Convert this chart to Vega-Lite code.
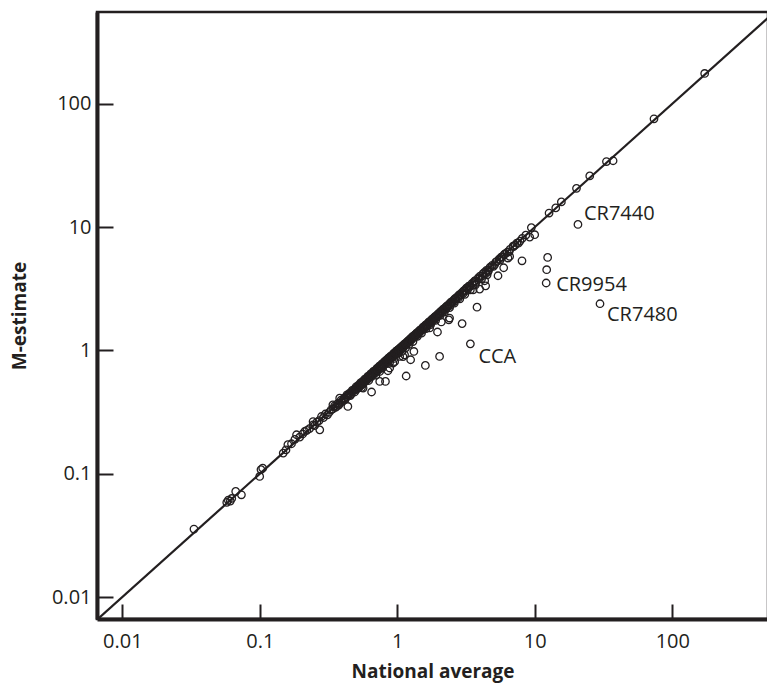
{
  "$schema": "https://vega.github.io/schema/vega-lite/v6.json",
  "width": 671,
  "height": 607,
  "autosize": {"type": "none"},
  "padding": {"left": 97, "top": 12, "right": 0, "bottom": 68},
  "background": "white",
  "config": {"view": {"stroke": "#231f20", "strokeWidth": 2.5}},
  "datasets": {
    "pts": [
      {"n":0.0332,"m":0.0356},{"n":0.0575,"m":0.0585},{"n":0.059,"m":0.061},{"n":0.061,"m":0.06},{"n":0.0625,"m":0.063},
      {"n":0.0668,"m":0.0718},{"n":0.0735,"m":0.0675},{"n":0.0998,"m":0.095},{"n":0.102,"m":0.108},{"n":0.105,"m":0.111},
      {"n":0.148,"m":0.147},{"n":0.155,"m":0.156},{"n":0.16,"m":0.172},{"n":0.17,"m":0.175},{"n":0.18,"m":0.19},
      {"n":0.185,"m":0.207},{"n":0.195,"m":0.198},{"n":0.205,"m":0.21},{"n":0.212,"m":0.22},{"n":0.22,"m":0.225},
      {"n":0.23,"m":0.232},{"n":0.244,"m":0.249},{"n":0.244,"m":0.265},{"n":0.25,"m":0.245},{"n":0.26,"m":0.262},{"n":0.27,"m":0.27},
      {"n":0.273,"m":0.227},{"n":0.281,"m":0.291},{"n":0.29,"m":0.285},{"n":0.3,"m":0.305},{"n":0.31,"m":0.3},
      {"n":0.32,"m":0.315},{"n":0.33,"m":0.33},{"n":0.34,"m":0.362},{"n":0.34,"m":0.335},{"n":0.35,"m":0.355},{"n":0.355,"m":0.345},{"n":0.36,"m":0.35},
      {"n":0.37,"m":0.372},{"n":0.375,"m":0.36},{"n":0.38,"m":0.37},{"n":0.381,"m":0.41},{"n":0.39,"m":0.395},{"n":0.395,"m":0.385},{"n":0.4,"m":0.39},
      {"n":0.41,"m":0.41},{"n":0.415,"m":0.4},{"n":0.42,"m":0.405},{"n":0.425,"m":0.42},{"n":0.43,"m":0.435},{"n":0.437,"m":0.351},{"n":0.44,"m":0.43},
      {"n":0.445,"m":0.44},{"n":0.45,"m":0.45},{"n":0.455,"m":0.43},{"n":0.46,"m":0.44},{"n":0.465,"m":0.46},{"n":0.47,"m":0.475},{"n":0.48,"m":0.47},{"n":0.485,"m":0.48},{"n":0.49,"m":0.46},
      {"n":0.495,"m":0.49},{"n":0.5,"m":0.505},{"n":0.503,"m":0.48},{"n":0.51,"m":0.49},{"n":0.515,"m":0.505},{"n":0.52,"m":0.52},{"n":0.525,"m":0.5},{"n":0.53,"m":0.51},
      {"n":0.535,"m":0.53},{"n":0.54,"m":0.545},{"n":0.545,"m":0.52},{"n":0.55,"m":0.53},{"n":0.55,"m":0.5},{"n":0.555,"m":0.55},{"n":0.56,"m":0.56},{"n":0.564,"m":0.495},{"n":0.565,"m":0.54},
      {"n":0.57,"m":0.55},{"n":0.575,"m":0.57},{"n":0.58,"m":0.585},{"n":0.585,"m":0.56},{"n":0.59,"m":0.57},{"n":0.595,"m":0.59},{"n":0.6,"m":0.59},{"n":0.605,"m":0.58},{"n":0.61,"m":0.615},
      {"n":0.615,"m":0.61},{"n":0.62,"m":0.6},{"n":0.62,"m":0.57},{"n":0.625,"m":0.6},{"n":0.63,"m":0.62},{"n":0.635,"m":0.63},{"n":0.64,"m":0.645},{"n":0.645,"m":0.61},{"n":0.65,"m":0.63},
      {"n":0.65,"m":0.46},{"n":0.655,"m":0.65},{"n":0.66,"m":0.65},{"n":0.665,"m":0.63},{"n":0.67,"m":0.675},{"n":0.675,"m":0.67},{"n":0.68,"m":0.66},{"n":0.685,"m":0.65},{"n":0.69,"m":0.685},
      {"n":0.695,"m":0.69},{"n":0.7,"m":0.68},{"n":0.7,"m":0.63},{"n":0.705,"m":0.67},{"n":0.71,"m":0.715},{"n":0.715,"m":0.7},{"n":0.72,"m":0.7},{"n":0.725,"m":0.69},{"n":0.73,"m":0.72},{"n":0.735,"m":0.73},
      {"n":0.74,"m":0.745},{"n":0.745,"m":0.675},{"n":0.745,"m":0.56},{"n":0.75,"m":0.73},{"n":0.755,"m":0.74},{"n":0.76,"m":0.75},{"n":0.765,"m":0.72},
      {"n":0.77,"m":0.775},{"n":0.78,"m":0.76},{"n":0.78,"m":0.72},{"n":0.785,"m":0.78},{"n":0.79,"m":0.78},{"n":0.795,"m":0.76},{"n":0.8,"m":0.805},
      {"n":0.81,"m":0.79},{"n":0.815,"m":0.81},{"n":0.82,"m":0.8},{"n":0.82,"m":0.56},{"n":0.825,"m":0.78},{"n":0.83,"m":0.835},{"n":0.84,"m":0.82},
      {"n":0.845,"m":0.84},{"n":0.85,"m":0.84},{"n":0.855,"m":0.684},{"n":0.86,"m":0.865},{"n":0.865,"m":0.83},{"n":0.87,"m":0.85},{"n":0.875,"m":0.87},{"n":0.88,"m":0.87},
      {"n":0.88,"m":0.8},{"n":0.88,"m":0.72},{"n":0.89,"m":0.895},{"n":0.895,"m":0.86},{"n":0.9,"m":0.88},{"n":0.905,"m":0.9},{"n":0.91,"m":0.905},
      {"n":0.92,"m":0.91},{"n":0.925,"m":0.88},{"n":0.93,"m":0.9},{"n":0.93,"m":0.79},{"n":0.935,"m":0.93},{"n":0.94,"m":0.945},{"n":0.95,"m":0.93},
      {"n":0.95,"m":0.86},{"n":0.955,"m":0.91},{"n":0.957,"m":0.81},{"n":0.96,"m":0.955},{"n":0.965,"m":0.96},{"n":0.97,"m":0.95},{"n":0.98,"m":0.985},{"n":0.985,"m":0.94},
      {"n":0.99,"m":0.97},{"n":0.995,"m":0.99},{"n":1.0,"m":1.0},{"n":1.01,"m":0.99},{"n":1.015,"m":0.97},{"n":1.02,"m":1.02},{"n":1.02,"m":0.95},{"n":1.025,"m":1.01},
      {"n":1.03,"m":1.0},{"n":1.04,"m":1.035},{"n":1.04,"m":0.893},{"n":1.045,"m":1.0},{"n":1.05,"m":1.03},{"n":1.055,"m":1.05},{"n":1.06,"m":1.06},
      {"n":1.07,"m":1.04},{"n":1.075,"m":1.03},{"n":1.08,"m":1.075},{"n":1.08,"m":0.98},{"n":1.09,"m":1.07},{"n":1.095,"m":1.09},{"n":1.1,"m":1.1},
      {"n":1.1,"m":0.89},{"n":1.11,"m":1.06},{"n":1.12,"m":1.09},{"n":1.13,"m":1.13},{"n":1.13,"m":0.92},{"n":1.14,"m":1.13},{"n":1.15,"m":1.14},
      {"n":1.15,"m":1.05},{"n":1.16,"m":1.12},{"n":1.16,"m":0.62},{"n":1.17,"m":1.12},{"n":1.18,"m":1.18},{"n":1.19,"m":1.16},{"n":1.2,"m":1.19},
      {"n":1.21,"m":1.2},{"n":1.22,"m":1.12},{"n":1.22,"m":1.17},{"n":1.23,"m":1.23},{"n":1.24,"m":1.2},{"n":1.25,"m":0.84},{"n":1.25,"m":1.24},
      {"n":1.26,"m":1.25},{"n":1.27,"m":1.22},{"n":1.28,"m":1.28},{"n":1.29,"m":1.29},{"n":1.3,"m":1.27},{"n":1.3,"m":1.18},{"n":1.32,"m":1.32},
      {"n":1.32,"m":0.98},{"n":1.33,"m":1.28},{"n":1.34,"m":1.31},{"n":1.35,"m":1.34},{"n":1.36,"m":1.35},{"n":1.37,"m":1.31},{"n":1.38,"m":1.38},{"n":1.4,"m":1.36},
      {"n":1.4,"m":1.3},{"n":1.41,"m":1.4},{"n":1.43,"m":1.42},{"n":1.44,"m":1.38},{"n":1.45,"m":1.45},{"n":1.47,"m":1.46},{"n":1.48,"m":1.44},{"n":1.5,"m":1.49},
      {"n":1.5,"m":1.38},{"n":1.52,"m":1.46},{"n":1.53,"m":1.53},{"n":1.55,"m":1.55},{"n":1.56,"m":1.52},{"n":1.58,"m":1.57},{"n":1.59,"m":1.52},{"n":1.6,"m":0.755},
      {"n":1.61,"m":1.61},{"n":1.62,"m":1.5},{"n":1.63,"m":1.62},{"n":1.64,"m":1.6},{"n":1.66,"m":1.59},{"n":1.67,"m":1.66},{"n":1.69,"m":1.68},{"n":1.7,"m":1.7},
      {"n":1.72,"m":1.52},{"n":1.73,"m":1.68},{"n":1.74,"m":1.66},{"n":1.75,"m":1.62},{"n":1.76,"m":1.75},{"n":1.78,"m":1.77},{"n":1.8,"m":1.8},
      {"n":1.82,"m":1.74},{"n":1.83,"m":1.78},{"n":1.86,"m":1.85},{"n":1.87,"m":1.86},{"n":1.9,"m":1.9},{"n":1.9,"m":1.75},{"n":1.92,"m":1.84},{"n":1.94,"m":1.88},
      {"n":1.96,"m":1.41},{"n":1.96,"m":1.95},{"n":1.98,"m":1.97},{"n":2.0,"m":1.92},{"n":2.02,"m":2.02},{"n":2.03,"m":0.893},{"n":2.05,"m":1.92},
      {"n":2.06,"m":2.0},{"n":2.08,"m":2.07},{"n":2.09,"m":1.7},{"n":2.1,"m":2.09},{"n":2.13,"m":2.04},{"n":2.15,"m":2.15},{"n":2.18,"m":2.17},{"n":2.19,"m":2.12},
      {"n":2.2,"m":2.05},{"n":2.24,"m":2.23},{"n":2.26,"m":2.17},{"n":2.29,"m":2.29},{"n":2.32,"m":2.31},{"n":2.34,"m":2.27},{"n":2.37,"m":1.77},
      {"n":2.39,"m":2.38},{"n":2.4,"m":2.22},{"n":2.4,"m":1.83},{"n":2.42,"m":2.32},{"n":2.45,"m":2.45},{"n":2.48,"m":2.47},{"n":2.5,"m":2.43},
      {"n":2.56,"m":2.55},{"n":2.58,"m":2.48},{"n":2.6,"m":2.42},{"n":2.62,"m":2.62},{"n":2.66,"m":2.65},{"n":2.68,"m":2.6},{"n":2.75,"m":2.74},{"n":2.78,"m":2.66},
      {"n":2.82,"m":2.82},{"n":2.85,"m":2.62},{"n":2.86,"m":2.85},{"n":2.89,"m":2.8},{"n":2.96,"m":2.95},{"n":2.96,"m":1.65},{"n":3.0,"m":2.88},
      {"n":3.04,"m":3.04},{"n":3.08,"m":3.07},{"n":3.1,"m":2.85},{"n":3.12,"m":3.02},{"n":3.18,"m":3.2},{"n":3.2,"m":3.19},{"n":3.25,"m":3.12},
      {"n":3.3,"m":3.3},{"n":3.35,"m":3.34},{"n":3.4,"m":3.3},{"n":3.4,"m":3.1},{"n":3.4,"m":1.13,"label":"CCA"},{"n":3.5,"m":3.49},{"n":3.55,"m":3.4},
      {"n":3.56,"m":3.1},{"n":3.62,"m":3.62},{"n":3.68,"m":3.67},{"n":3.7,"m":3.4},{"n":3.75,"m":3.62},{"n":3.8,"m":2.24},
      {"n":3.88,"m":3.87},{"n":3.95,"m":3.8},{"n":3.97,"m":3.14},{"n":4.0,"m":4.0},{"n":4.1,"m":3.8},{"n":4.15,"m":4.02},{"n":4.2,"m":4.19},
      {"n":4.3,"m":4.29},{"n":4.32,"m":3.67},{"n":4.39,"m":3.34},{"n":4.4,"m":4.22},{"n":4.45,"m":4.45},{"n":4.5,"m":4.1},
      {"n":4.57,"m":4.36},{"n":4.6,"m":4.45},{"n":4.7,"m":4.68},{"n":4.75,"m":4.74},{"n":4.9,"m":4.9},{"n":5.0,"m":4.8},{"n":5.1,"m":4.95},
      {"n":5.2,"m":5.19},{"n":5.3,"m":5.28},{"n":5.4,"m":4.03},{"n":5.5,"m":5.5},{"n":5.6,"m":5.4},{"n":5.7,"m":5.7},{"n":5.8,"m":5.75},
      {"n":5.94,"m":4.68},{"n":6.0,"m":6.0},{"n":6.1,"m":6.08},{"n":6.3,"m":6.25},{"n":6.38,"m":5.61},{"n":6.5,"m":6.3},{"n":6.56,"m":5.78},
      {"n":6.6,"m":6.6},{"n":6.95,"m":7.0},{"n":7.0,"m":6.95},{"n":7.2,"m":7.15},{"n":7.4,"m":7.4},{"n":7.6,"m":7.4},{"n":7.8,"m":7.7},
      {"n":8.07,"m":5.33},{"n":8.1,"m":8.1},{"n":8.6,"m":8.6},{"n":9.18,"m":8.3},{"n":9.44,"m":9.9},
      {"n":9.98,"m":8.67},{"n":12.1,"m":3.52,"label":"CR9954"},{"n":12.2,"m":4.51},{"n":12.4,"m":5.67},
      {"n":12.7,"m":13.0},{"n":14.2,"m":14.3},{"n":15.6,"m":16.0},{"n":20.1,"m":20.6},{"n":20.6,"m":10.5,"label":"CR7440"},
      {"n":25.1,"m":26.0},{"n":29.8,"m":2.39,"label":"CR7480"},{"n":33.2,"m":34.0},{"n":37.1,"m":34.5},
      {"n":73.6,"m":75.5},{"n":172,"m":176}
    ],
    "diag": [{"n":0.001,"m":0.001},{"n":1000,"m":1000}]
  },
  "encoding": {
    "x": {"field": "n", "type": "quantitative",
          "scale": {"type": "log", "domain": [0.006546, 496.6], "nice": false, "zero": false},
          "axis": {"orient": "bottom", "values": [0.01, 0.1, 1, 10, 100], "format": "~g", "grid": false,
                   "domainWidth": 4, "domainColor": "#231f20", "tickColor": "#231f20", "tickWidth": 2,
                   "tickSize": -15, "labelPadding": 27, "labelFont": "Open Sans", "labelFontSize": 20,
                   "labelColor": "#231f20", "labelFlush": false, "labelOverlap": false,
                   "title": "National average", "titleFont": "Open Sans", "titleFontSize": 19,
                   "titleFontWeight": "bold", "titleColor": "#231f20", "titlePadding": 11}},
    "y": {"field": "m", "type": "quantitative",
          "scale": {"type": "log", "domain": [0.006637, 554.6], "nice": false, "zero": false},
          "axis": {"orient": "left", "values": [0.01, 0.1, 1, 10, 100], "format": "~g", "grid": false,
                   "domainWidth": 4, "domainColor": "#231f20", "tickColor": "#231f20", "tickWidth": 2,
                   "tickSize": -16, "labelPadding": 22, "labelFont": "Open Sans", "labelFontSize": 20,
                   "labelColor": "#231f20", "labelFlush": false, "labelOverlap": false,
                   "title": "M-estimate", "titleFont": "Open Sans", "titleFontSize": 19,
                   "titleFontWeight": "bold", "titleColor": "#231f20", "titlePadding": 22}}
  },
  "layer": [
    {
      "data": {"name": "diag"},
      "mark": {"type": "line", "clip": true, "color": "#231f20", "strokeWidth": 2.2}
    },
    {
      "data": {"name": "pts"},
      "mark": {"type": "point", "shape": "circle", "filled": false, "size": 56, "strokeWidth": 1.3, "color": "#231f20", "opacity": 1}
    },
    {
      "data": {"name": "pts"},
      "transform": [{"filter": "datum.label == 'CR7440'"}],
      "mark": {"type": "text", "align": "left", "baseline": "alphabetic", "dx": 6, "dy": -4, "font": "Open Sans", "fontSize": 20, "color": "#231f20"},
      "encoding": {"text": {"field": "label"}}
    },
    {
      "data": {"name": "pts"},
      "transform": [{"filter": "datum.label == 'CR9954'"}],
      "mark": {"type": "text", "align": "left", "baseline": "alphabetic", "dx": 10, "dy": 8, "font": "Open Sans", "fontSize": 20, "color": "#231f20"},
      "encoding": {"text": {"field": "label"}}
    },
    {
      "data": {"name": "pts"},
      "transform": [{"filter": "datum.label == 'CR7480'"}],
      "mark": {"type": "text", "align": "left", "baseline": "alphabetic", "dx": 7, "dy": 17, "font": "Open Sans", "fontSize": 20, "color": "#231f20"},
      "encoding": {"text": {"field": "label"}}
    },
    {
      "data": {"name": "pts"},
      "transform": [{"filter": "datum.label == 'CCA'"}],
      "mark": {"type": "text", "align": "left", "baseline": "alphabetic", "dx": 8, "dy": 19, "font": "Open Sans", "fontSize": 20, "color": "#231f20"},
      "encoding": {"text": {"field": "label"}}
    }
  ]
}
